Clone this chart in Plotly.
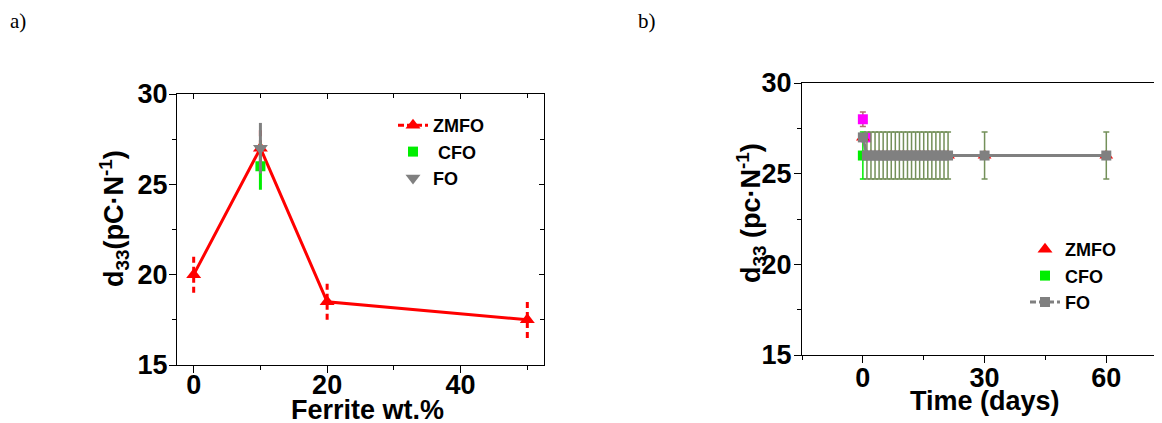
import plotly.graph_objects as go

W, H = 1162, 423
OFF = 8  # page body margin offset

# ---------------- Panel a data ----------------
ferrite_wt = [0, 10, 20, 50]
zmfo_a = [20.0, 27.0, 18.5, 17.5]
zmfo_a_err = [1.0, 1.0, 1.0, 1.0]
cfo_a_x = [10]
cfo_a = [26.0]
cfo_a_err = [1.3]
fo_a_x = [10]
fo_a = [27.0]
fo_a_err = [1.4]

# ---------------- Panel b data ----------------
days = [0, 1, 2, 3, 4, 5, 6, 7, 8, 9, 10, 11, 12, 13, 14, 15, 16, 17, 18, 19, 20, 21, 30, 60]
zmfo_b = [27, 26, 26, 26, 26, 26, 26, 26, 26, 26, 26, 26, 26, 26, 26, 26, 26, 26, 26, 26, 26, 26, 26, 26]
cfo_b_days = [0]
cfo_b = [26]
cfo_b_err = [1.3]
fo_b = [27, 26, 26, 26, 26, 26, 26, 26, 26, 26, 26, 26, 26, 26, 26, 26, 26, 26, 26, 26, 26, 26, 26, 26]
fo_b_err = [1.3, 1.3, 1.3, 1.3, 1.3, 1.3, 1.3, 1.3, 1.3, 1.3, 1.3, 1.3, 1.3, 1.3, 1.3, 1.3, 1.3, 1.3, 1.3, 1.3, 1.3, 1.3, 1.3, 1.3]
extra_days = [0, 0.8]
extra_b = [28, 27]
extra_b_err = [0.4, 0.0]

RED = "#ff0000"
GREEN = "#00ee00"
GRAY = "#808080"
OLIVE = "#74905a"
MAGENTA = "#ff00ff"
FONT = "Liberation Sans"


def px_x(p):
    return (p - OFF) / W


def px_y(p):
    return 1 - (p - OFF) / H


fig = go.Figure()

# ---- panel a ----
ex, ey = [], []
for xv, yv, ev in zip(ferrite_wt, zmfo_a, zmfo_a_err):
    ex += [xv, xv, None]
    ey += [yv - ev, yv + ev, None]
fig.add_trace(go.Scatter(x=ex, y=ey, mode="lines", line=dict(color=RED, width=3, dash="6px,4px"),
                         showlegend=False, hoverinfo="skip", xaxis="x", yaxis="y"))
fig.add_trace(go.Scatter(x=ferrite_wt, y=zmfo_a, mode="lines+markers", name="ZMFO",
                         line=dict(color=RED, width=3),
                         marker=dict(symbol="triangle-up", size=13, color=RED),
                         showlegend=False, xaxis="x", yaxis="y"))
fig.add_trace(go.Scatter(x=cfo_a_x, y=cfo_a, mode="markers", name="CFO",
                         marker=dict(symbol="square", size=10, color=GREEN),
                         error_y=dict(type="data", array=cfo_a_err, color=GREEN, thickness=3, width=0),
                         showlegend=False, xaxis="x", yaxis="y"))
fig.add_trace(go.Scatter(x=fo_a_x, y=fo_a, mode="markers", name="FO",
                         marker=dict(symbol="triangle-down", size=13, color=GRAY),
                         error_y=dict(type="data", array=fo_a_err, color=GRAY, thickness=3, width=0),
                         showlegend=False, xaxis="x", yaxis="y"))
fig.add_trace(go.Scatter(x=[None], y=[None], mode="lines+markers", name="ZMFO",
                         line=dict(color=RED, width=3, dash="6px,3px"),
                         marker=dict(symbol="triangle-up", size=13, color=RED),
                         legend="legend", xaxis="x", yaxis="y"))
fig.add_trace(go.Scatter(x=[None], y=[None], mode="markers", name=" CFO",
                         marker=dict(symbol="square", size=10, color=GREEN),
                         legend="legend", xaxis="x", yaxis="y"))
fig.add_trace(go.Scatter(x=[None], y=[None], mode="markers", name="FO",
                         marker=dict(symbol="triangle-down", size=13, color=GRAY),
                         legend="legend", xaxis="x", yaxis="y"))
# invisible trace so the mirrored (inward-tick) axes of panel a are drawn
fig.add_trace(go.Scatter(x=[None], y=[None], mode="markers", showlegend=False, hoverinfo="skip",
                         xaxis="x3", yaxis="y3"))

# ---- panel b ----
fig.add_trace(go.Scatter(x=extra_days, y=extra_b, mode="markers", showlegend=False,
                         marker=dict(symbol="square", size=10, color=MAGENTA),
                         error_y=dict(type="data", array=extra_b_err, color="#b07070", thickness=1.5, width=3),
                         xaxis="x2", yaxis="y2"))
fig.add_trace(go.Scatter(x=days, y=zmfo_b, mode="markers", name="ZMFO",
                         marker=dict(symbol="triangle-up", size=12, color=RED),
                         showlegend=False, xaxis="x2", yaxis="y2"))
fig.add_trace(go.Scatter(x=cfo_b_days, y=cfo_b, mode="markers", name="CFO",
                         marker=dict(symbol="square", size=10, color=GREEN),
                         error_y=dict(type="data", array=cfo_b_err, color=GREEN, thickness=1.5, width=3),
                         showlegend=False, xaxis="x2", yaxis="y2"))
fig.add_trace(go.Scatter(x=days[1:], y=fo_b[1:], mode="markers", showlegend=False,
                         marker=dict(size=0.1, color=OLIVE),
                         error_y=dict(type="data", array=fo_b_err[1:], color=OLIVE, thickness=1.5, width=3),
                         xaxis="x2", yaxis="y2"))
fig.add_trace(go.Scatter(x=days, y=fo_b, mode="lines+markers", name="FO",
                         line=dict(color=GRAY, width=3),
                         marker=dict(symbol="square", size=10, color=GRAY),
                         showlegend=False, xaxis="x2", yaxis="y2"))
fig.add_trace(go.Scatter(x=[None], y=[None], mode="markers", name="ZMFO",
                         marker=dict(symbol="triangle-up", size=13, color=RED),
                         legend="legend2", xaxis="x2", yaxis="y2"))
fig.add_trace(go.Scatter(x=[None], y=[None], mode="markers", name="CFO",
                         marker=dict(symbol="square", size=10, color=GREEN),
                         legend="legend2", xaxis="x2", yaxis="y2"))
fig.add_trace(go.Scatter(x=[None], y=[None], mode="lines+markers", name="FO",
                         line=dict(color=GRAY, width=3, dash="6px,3px"),
                         marker=dict(symbol="square", size=10, color=GRAY),
                         legend="legend2", xaxis="x2", yaxis="y2"))

tickfont = dict(family=FONT, size=27, color="black", weight="bold")
axis_common = dict(showgrid=False, zeroline=False, showline=True, linecolor="black", linewidth=1.3,
                   ticks="outside", ticklen=7, tickwidth=1.3, tickcolor="black", tickfont=tickfont,
                   automargin=False)
minor_out = dict(ticks="outside", ticklen=4, tickcolor="black", tickwidth=1.3)
minor_in = dict(ticks="inside", ticklen=4, tickcolor="black", tickwidth=1.3)

dom_ax = [px_x(177), px_x(544)]
dom_ay = [px_y(365), px_y(94)]

fig.update_layout(
    width=W, height=H, autosize=False,
    margin=dict(l=0, r=0, t=0, b=0, pad=0, autoexpand=False),
    paper_bgcolor="white", plot_bgcolor="white",
    xaxis=dict(domain=dom_ax, range=[-2.5, 52.5], tickvals=[0, 20, 40],
               minor=dict(tickvals=[10, 30, 50], **minor_out), ticklabelstandoff=-12,
               mirror=True, anchor="y", **axis_common),
    yaxis=dict(domain=dom_ay, range=[15, 30], tickvals=[15, 20, 25, 30],
               minor=dict(tickvals=[17.5, 22.5, 27.5], **minor_out), ticklabelstandoff=-4,
               mirror=True, anchor="x", **axis_common),
    xaxis3=dict(domain=dom_ax, range=[-2.5, 52.5], tickvals=[0, 20, 40], overlaying="x", side="top",
                anchor="y3", showline=False, showgrid=False, zeroline=False, showticklabels=False,
                ticks="inside", ticklen=5, tickwidth=1.3, tickcolor="black",
                minor=dict(tickvals=[10, 30, 50], **minor_in)),
    yaxis3=dict(domain=dom_ay, range=[15, 30], tickvals=[15, 20, 25, 30], overlaying="y", side="right",
                anchor="x3", showline=False, showgrid=False, zeroline=False, showticklabels=False,
                ticks="inside", ticklen=5, tickwidth=1.3, tickcolor="black",
                minor=dict(tickvals=[17.5, 22.5, 27.5], **minor_in)),
    xaxis2=dict(domain=[px_x(802), 1.0], range=[-15, 75.7], tickvals=[0, 30, 60],
                minor=dict(tickvals=[-15, 15, 45], **minor_out), ticklabelstandoff=-9,
                mirror=True, anchor="y2", **axis_common),
    yaxis2=dict(domain=[px_y(355), px_y(83)], range=[15, 30], tickvals=[15, 20, 25, 30],
                minor=dict(tickvals=[17.5, 22.5, 27.5], **minor_out), ticklabelstandoff=-3,
                mirror=False, anchor="x2", **axis_common),
    legend=dict(x=px_x(393), y=px_y(107), xanchor="left", yanchor="top", bgcolor="rgba(0,0,0,0)",
                font=dict(family=FONT, size=18, color="black", weight="bold"), tracegroupgap=0),
    legend2=dict(x=px_x(1025), y=px_y(231), xanchor="left", yanchor="top", bgcolor="rgba(0,0,0,0)",
                 font=dict(family=FONT, size=18, color="black", weight="bold"), tracegroupgap=0),
    showlegend=True,
)

ann_font = dict(family=FONT, size=27, color="black", weight="bold")
annotations = [
    dict(text="a)", x=px_x(8), y=px_y(21), xanchor="left", yanchor="middle", showarrow=False,
         font=dict(family="Liberation Serif", size=21, color="black")),
    dict(text="b)", x=px_x(636), y=px_y(21), xanchor="left", yanchor="middle", showarrow=False,
         font=dict(family="Liberation Serif", size=21, color="black")),
    dict(text="Ferrite wt.%", x=px_x(367), y=px_y(410), xanchor="center", yanchor="middle", showarrow=False,
         font=ann_font),
    dict(text="Time (days)", x=px_x(985), y=px_y(401), xanchor="center", yanchor="middle", showarrow=False,
         font=ann_font),
    dict(text="d<sub>33</sub>(pC·N<sup>-1</sup>)", x=px_x(114), y=px_y(219), xanchor="center", yanchor="middle",
         textangle=-90, showarrow=False, font=ann_font),
    dict(text="d<sub>33</sub> (pc·N<sup>-1</sup>)", x=px_x(751), y=px_y(213), xanchor="center", yanchor="middle",
         textangle=-90, showarrow=False, font=ann_font),
]
for a in annotations:
    a["xref"] = "paper"
    a["yref"] = "paper"
fig.update_layout(annotations=annotations)

fig.write_html("out.html", config={"responsive": False})
